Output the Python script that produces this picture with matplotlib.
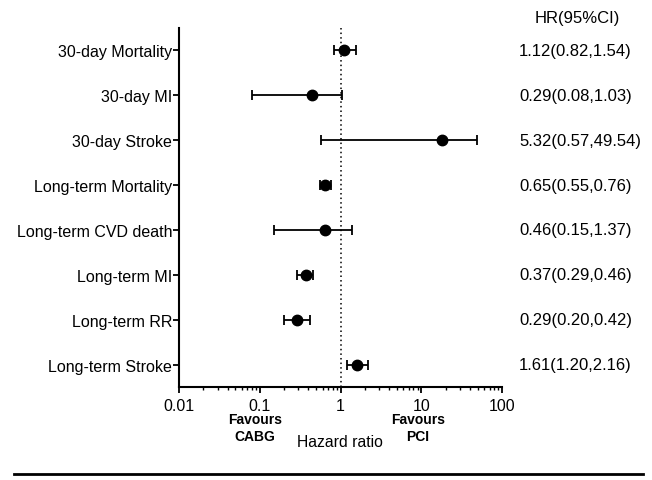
import matplotlib
matplotlib.use('Agg')
import matplotlib.pyplot as plt
from matplotlib.lines import Line2D
from matplotlib.transforms import blended_transform_factory

plt.rcParams['font.family'] = ['Liberation Sans', 'DejaVu Sans']

outcomes = ['30-day Mortality', '30-day MI', '30-day Stroke', 'Long-term Mortality',
            'Long-term CVD death', 'Long-term MI', 'Long-term RR', 'Long-term Stroke']
hr_points = [1.12, 0.45, 18.3, 0.64, 0.65, 0.37, 0.29, 1.61]
ci_low = [0.82, 0.08, 0.57, 0.55, 0.15, 0.29, 0.20, 1.20]
ci_high = [1.54, 1.03, 49.54, 0.76, 1.37, 0.46, 0.42, 2.16]
hr_labels = ['1.12(0.82,1.54)', '0.29(0.08,1.03)', '5.32(0.57,49.54)', '0.65(0.55,0.76)',
             '0.46(0.15,1.37)', '0.37(0.29,0.46)', '0.29(0.20,0.42)', '1.61(1.20,2.16)']

fig = plt.figure(figsize=(6.52, 4.81), dpi=100)
ax = fig.add_axes([0.2745, 0.193, 0.4955, 0.747])

ys = list(range(len(outcomes)))
xerr = [[p - l for p, l in zip(hr_points, ci_low)],
        [h - p for p, h in zip(hr_points, ci_high)]]
ax.errorbar(hr_points, ys, xerr=xerr, fmt='o', color='black', markersize=7.5,
            elinewidth=1.3, capsize=3.8, capthick=1.3)
ax.axvline(1, color='black', linestyle=(0, (1, 2)), linewidth=1.1)

ax.set_xscale('log')
ax.set_xlim(0.01, 100)
ax.set_ylim(len(outcomes) - 0.5, -0.5)
ax.set_yticks(ys)
ax.set_yticklabels(outcomes, fontsize=11.5)
ax.set_xticks([0.01, 0.1, 1, 10, 100])
ax.set_xticklabels(['0.01', '0.1', '1', '10', '100'], fontsize=11.5)

for s in ['top', 'right']:
    ax.spines[s].set_visible(False)
for s in ['left', 'bottom']:
    ax.spines[s].set_linewidth(1.5)
ax.tick_params(axis='both', which='major', direction='out', length=4, width=1.3, color='black')
ax.tick_params(axis='x', which='minor', direction='out', length=2.5, width=1)
ax.tick_params(axis='y', pad=1)

trans = blended_transform_factory(fig.transFigure, ax.transData)
for y, lab in zip(ys, hr_labels):
    ax.text(519 / 652, y, lab, transform=trans, ha='left', va='center', fontsize=12)
fig.text(535 / 652, 1 - 18 / 481, 'HR(95%CI)', ha='left', va='center', fontsize=12)

fig.text(255 / 652, 1 - 420 / 481, 'Favours', ha='center', va='center', fontsize=10, fontweight='bold')
fig.text(255 / 652, 1 - 437 / 481, 'CABG', ha='center', va='center', fontsize=10, fontweight='bold')
fig.text(418 / 652, 1 - 420 / 481, 'Favours', ha='center', va='center', fontsize=10, fontweight='bold')
fig.text(418 / 652, 1 - 437 / 481, 'PCI', ha='center', va='center', fontsize=10, fontweight='bold')
fig.text(340 / 652, 1 - 443 / 481, 'Hazard ratio', ha='center', va='center', fontsize=11.3)

fig.add_artist(Line2D([14 / 652, 643 / 652], [1 - 475 / 481, 1 - 475 / 481],
                      color='black', linewidth=2, transform=fig.transFigure))

fig.savefig('out.png', dpi=100)
